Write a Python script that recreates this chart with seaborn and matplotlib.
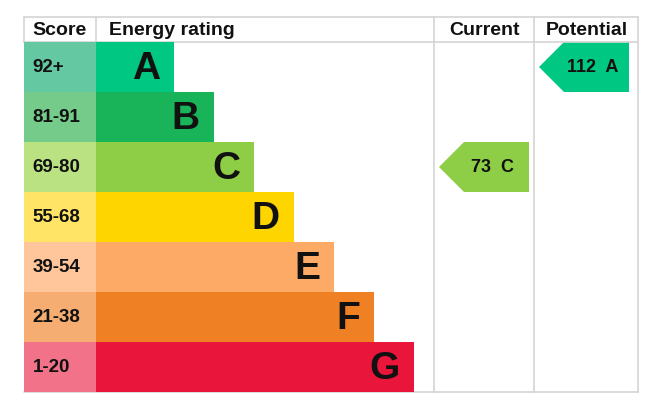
import matplotlib
matplotlib.use("Agg")
import matplotlib.pyplot as plt
import seaborn as sns
from matplotlib.patches import Polygon

# Data
ratings = ["A", "B", "C", "D", "E", "F", "G"]
score_bands = ["92+", "81-91", "69-80", "55-68", "39-54", "21-38", "1-20"]
bar_lengths = [78, 118, 158, 198, 238, 278, 318]
bar_colors = ["#00c781", "#19b459", "#8dce46", "#ffd500", "#fcaa65", "#ef8023", "#e9153b"]
score_colors = ["#64c8a3", "#74cb8a", "#bbe282", "#ffe466", "#ffc59b", "#f5ad72", "#f27389"]
headers = ["Score", "Energy rating", "Current", "Potential"]
current_score, current_rating = 73, "C"
potential_score, potential_rating = 112, "A"

W, H = 666, 404
FONT = ["Liberation Sans", "DejaVu Sans"]
GRID = "#d4d4d4"
INK = "#111111"

sns.set_theme(style="white")
plt.rcParams["font.family"] = FONT

fig = plt.figure(figsize=(W / 100, H / 100), dpi=100)

# table geometry in pixels
left, right, top, head, bottom = 24, 638, 17, 42, 392
col_score, col_rating, col_current = 96, 434, 534
row_h = (bottom - head) / len(ratings)


def px_axes(x0, y0, x1, y1):
    return fig.add_axes([x0 / W, 1 - y1 / H, (x1 - x0) / W, (y1 - y0) / H])


# background axes in pixel coordinates for grid, headers and arrows
bg = px_axes(0, 0, W, H)
bg.set_xlim(0, W)
bg.set_ylim(H, 0)
bg.axis("off")

# score column
ax_s = px_axes(left, head, col_score, bottom)
sns.barplot(x=[1] * len(score_bands), y=score_bands, hue=score_bands,
            palette=score_colors, width=1, legend=False, ax=ax_s,
            saturation=1, linewidth=0, edgecolor="none")
ax_s.set_xlim(0, 1)
ax_s.axis("off")
for i, lab in enumerate(score_bands):
    ax_s.text(0.12, i + 0.02, lab, ha="left", va="center", fontsize=13.5,
              fontweight="bold", color=INK)

# rating bars
ax_r = px_axes(col_score, head, col_rating, bottom)
sns.barplot(x=bar_lengths, y=ratings, hue=ratings, palette=bar_colors,
            width=1, legend=False, ax=ax_r, saturation=1, linewidth=0,
            edgecolor="none")
ax_r.set_xlim(0, col_rating - col_score)
ax_r.axis("off")
for i, (lab, ln) in enumerate(zip(ratings, bar_lengths)):
    ax_r.text(ln - 14, i + 0.04, lab, ha="right", va="center", fontsize=28,
              fontweight="bold", color=INK)

# grid lines
lw = 1.2
bg.plot([left, right], [top, top], color=GRID, lw=lw)
bg.plot([left, right], [head, head], color=GRID, lw=lw)
bg.plot([left, right], [bottom, bottom], color=GRID, lw=lw)
bg.plot([left, left], [top, head], color=GRID, lw=lw)
bg.plot([col_score, col_score], [top, head], color=GRID, lw=lw)
for x in (col_rating, col_current, right):
    bg.plot([x, x], [top, bottom], color=GRID, lw=lw)

# headers
hy = (top + head) / 2 + 1
hkw = dict(va="center", fontsize=14, fontweight="bold", color=INK)
bg.text(32, hy, headers[0], ha="left", **hkw)
bg.text(109, hy, headers[1], ha="left", **hkw)
bg.text((col_rating + col_current) / 2, hy, headers[2], ha="center", **hkw)
bg.text((col_current + right) / 2 + 1, hy, headers[3], ha="center", **hkw)


def arrow(x_tip, x_end, score, rating):
    i = ratings.index(rating)
    y0 = head + i * row_h
    y1 = y0 + row_h
    ym = (y0 + y1) / 2
    pts = [(x_tip, ym), (x_tip + 25, y0), (x_end, y0), (x_end, y1), (x_tip + 25, y1)]
    bg.add_patch(Polygon(pts, closed=True, facecolor=bar_colors[i], edgecolor="none"))
    bg.text((x_tip + 25 + x_end) / 2 - 4, ym + 1, f"{score}  {rating}", ha="center",
            va="center", fontsize=13, fontweight="bold", color=INK)


arrow(439, 529, current_score, current_rating)
arrow(539, 629, potential_score, potential_rating)

fig.savefig("out.png", dpi=100, facecolor="white")
